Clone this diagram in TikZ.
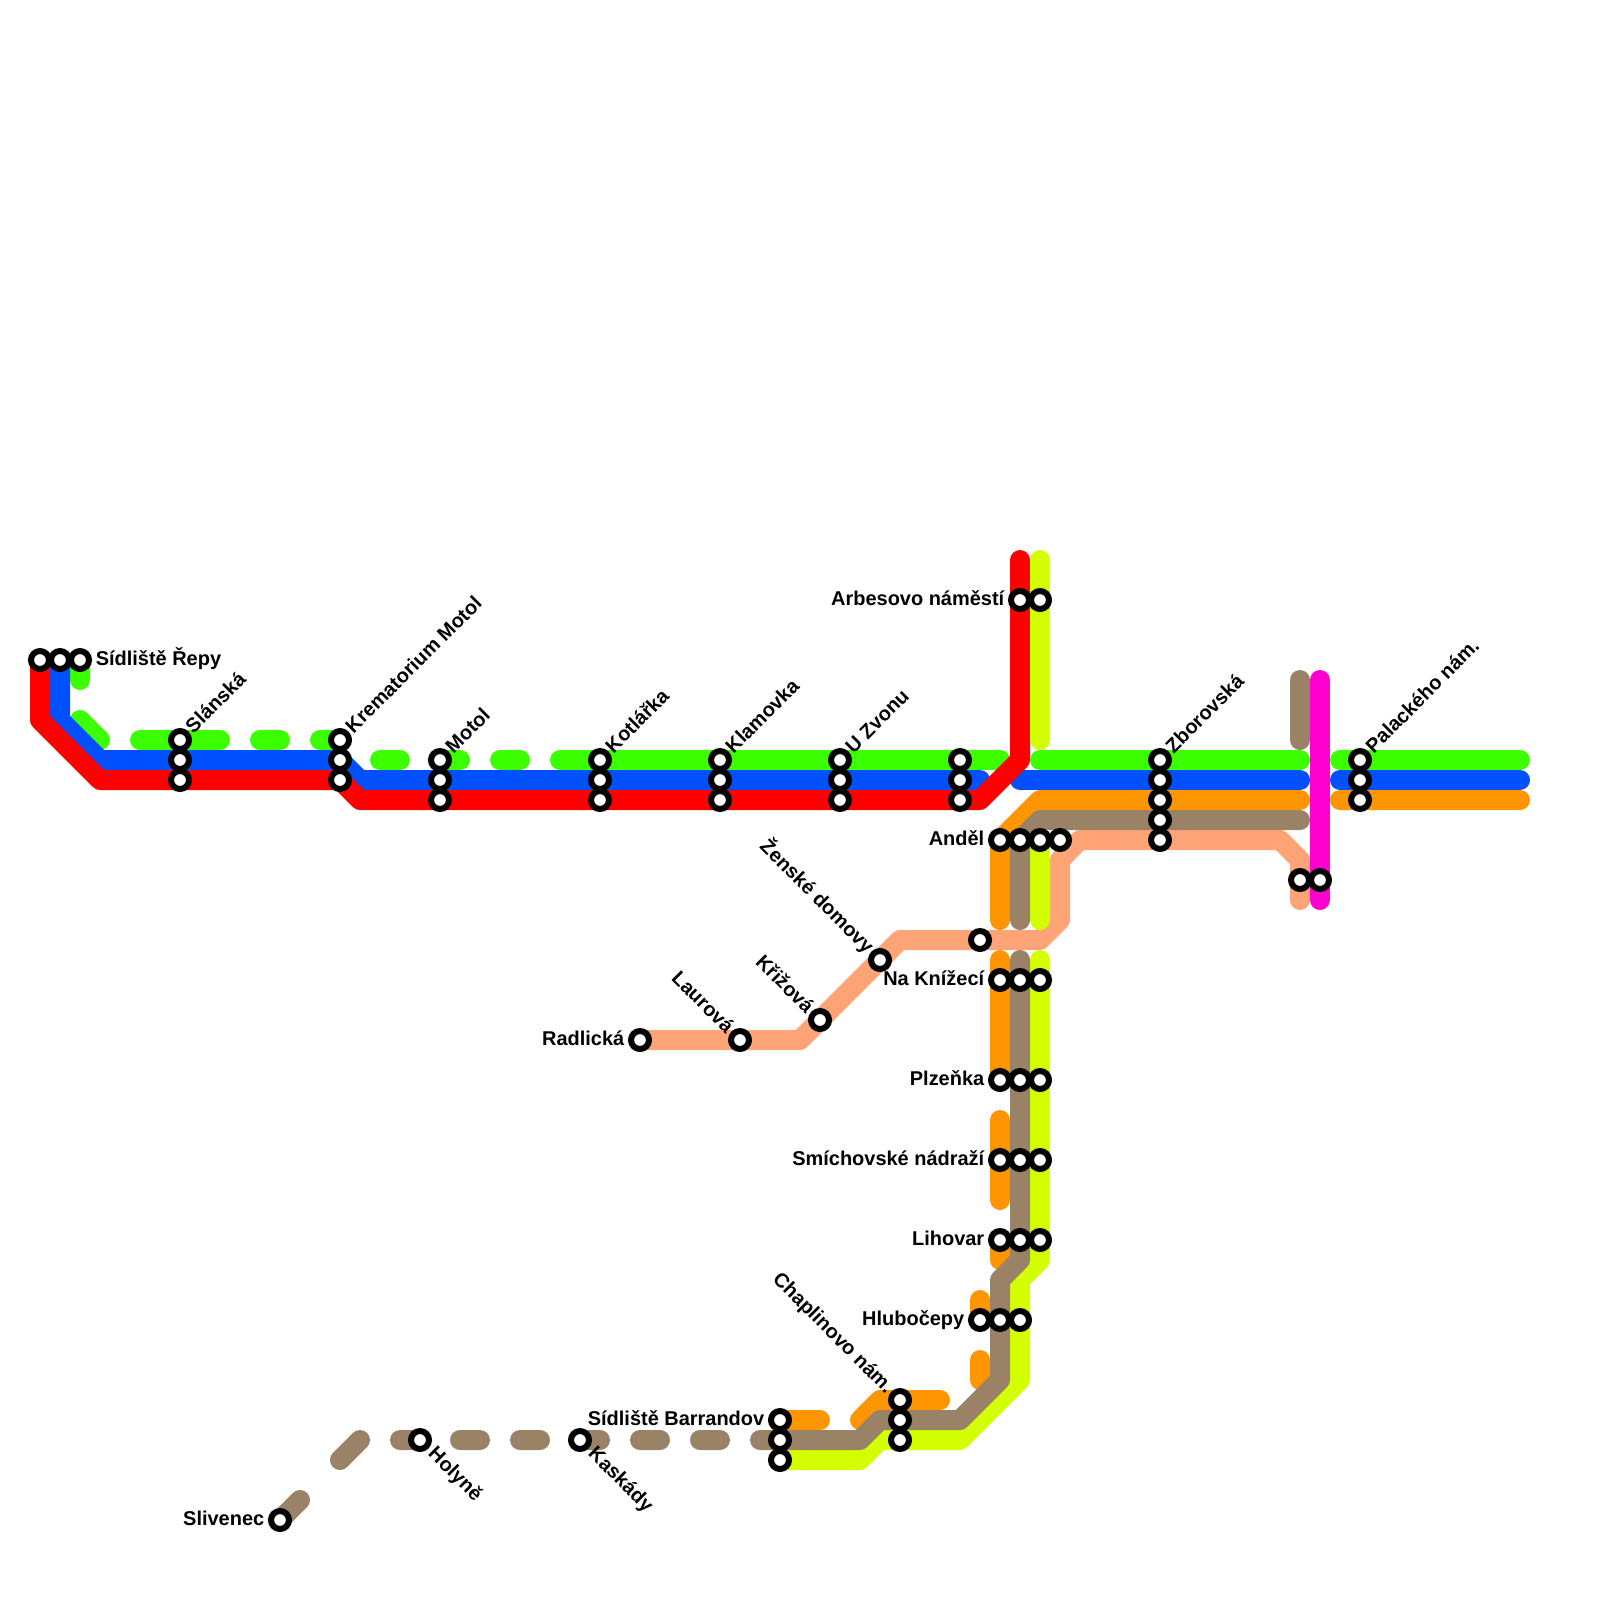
\documentclass[tikz,border=0pt]{standalone}
\usepackage{fontspec}
\setmainfont{Liberation Sans}
\usetikzlibrary{backgrounds}

\begin{document}
\begin{tikzpicture}[x=0.25cm, y=-0.25cm]
	\tikzset{stop/.style = {circle, draw = black, fill = white, line width = 0.075cm, minimum size = 0.225cm, inner sep = 0pt}}
	\tikzset{route/.style = {line width = 0.25cm, line cap = round, line join = round}}
	\tikzset{stoplabel/.style = {font = \fontsize{7.1}{8.5}\selectfont\bfseries, inner sep = 0pt}}
	\tikzset{labelE/.style = {stoplabel, anchor = mid west, xshift = 0.19cm, yshift = 0.02cm}}
	\tikzset{labelW/.style = {stoplabel, anchor = mid east, xshift = -0.19cm, yshift = 0.02cm}}
	\tikzset{labelNE/.style = {stoplabel, anchor = mid west, rotate = 45, xshift = 0.166cm, yshift = 0.023cm}}
	\tikzset{labelNW/.style = {stoplabel, anchor = mid east, rotate = -45, xshift = -0.17cm, yshift = 0.016cm}}
	\tikzset{labelSE/.style = {stoplabel, anchor = mid west, rotate = -45, xshift = 0.19cm, yshift = 0.028cm}}
	\definecolor{routeRed}{HTML}{FF0000}
	\definecolor{routeBlue}{HTML}{0050FF}
	\definecolor{routeGreen}{HTML}{3CFF00}
	\definecolor{routeLime}{HTML}{D4FF00}
	\definecolor{routeOrange}{HTML}{FF9500}
	\definecolor{routeBrown}{HTML}{998266}
	\definecolor{routeSalmon}{HTML}{FFA477}
	\definecolor{routeMagenta}{HTML}{FF00D0}

	\useasboundingbox (0,0) rectangle (80,80);

%% Western stops
\draw (2,33) node[stop, name = repyR]{};
\draw (3,33) node[stop, name = repyB]{};
\draw (4,33) node[stop, name = repyG]{};
\draw (9,37) node[stop, name = slanskaG]{};
\draw (9,38) node[stop, name = slanskaB]{};
\draw (9,39) node[stop, name = slanskaR]{};
\draw (17,37) node[stop, name = krematG]{};
\draw (17,38) node[stop, name = krematB]{};
\draw (17,39) node[stop, name = krematR]{};
\draw (22,38) node[stop, name = motolG]{};
\draw (22,39) node[stop, name = motolB]{};
\draw (22,40) node[stop, name = motolR]{};
\draw (30,38) node[stop, name = kotlarkaG]{};
\draw (30,39) node[stop, name = kotlarkaB]{};
\draw (30,40) node[stop, name = kotlarkaR]{};
\draw (36,38) node[stop, name = klamovkaG]{};
\draw (36,39) node[stop, name = klamovkaB]{};
\draw (36,40) node[stop, name = klamovkaR]{};
\draw (42,38) node[stop, name = zvonuG]{};
\draw (42,39) node[stop, name = zvonuB]{};
\draw (42,40) node[stop, name = zvonuR]{};
\draw (48,38) node[stop, name = bezG]{};
\draw (48,39) node[stop, name = bezB]{};
\draw (48,40) node[stop, name = bezR]{};

%% Central stops
\draw (51,30) node[stop, name = arbesR]{};
\draw (52,30) node[stop, name = arbesL]{};
\draw (50,42) node[stop, name = andelO]{};
\draw (51,42) node[stop, name = andelH]{};
\draw (52,42) node[stop, name = andelL]{};
\draw (53,42) node[stop, name = andelS]{};
\draw (58,38) node[stop, name = zborG]{};
\draw (58,39) node[stop, name = zborB]{};
\draw (58,40) node[stop, name = zborO]{};
\draw (58,41) node[stop, name = zborH]{};
\draw (58,42) node[stop, name = zborS]{};
\draw (65,44) node[stop, name = palackS]{};
\draw (66,44) node[stop, name = palackM]{};
\draw (68,38) node[stop, name = palackG]{};
\draw (68,39) node[stop, name = palackB]{};
\draw (68,40) node[stop, name = palackO]{};

%% Salmon branch stops
\draw (32,52) node[stop, name = radlicka]{};
\draw (37,52) node[stop, name = laurova]{};
\draw (41,51) node[stop, name = krizova]{};
\draw (44,48) node[stop, name = zenske]{};
\draw (49,47) node[stop, name = salmonS]{};

%% Southern stops
\draw (50,49) node[stop, name = knizeciO]{};
\draw (51,49) node[stop, name = knizeciH]{};
\draw (52,49) node[stop, name = knizeciL]{};
\draw (50,54) node[stop, name = plzenkaO]{};
\draw (51,54) node[stop, name = plzenkaH]{};
\draw (52,54) node[stop, name = plzenkaL]{};
\draw (50,58) node[stop, name = smichovO]{};
\draw (51,58) node[stop, name = smichovH]{};
\draw (52,58) node[stop, name = smichovL]{};
\draw (50,62) node[stop, name = lihovarO]{};
\draw (51,62) node[stop, name = lihovarH]{};
\draw (52,62) node[stop, name = lihovarL]{};
\draw (49,66) node[stop, name = hlubO]{};
\draw (50,66) node[stop, name = hlubH]{};
\draw (51,66) node[stop, name = hlubL]{};
\draw (45,70) node[stop, name = chaplinO]{};
\draw (45,71) node[stop, name = chaplinH]{};
\draw (45,72) node[stop, name = chaplinL]{};
\draw (39,71) node[stop, name = barrandovO]{};
\draw (39,72) node[stop, name = barrandovH]{};
\draw (39,73) node[stop, name = barrandovL]{};
\draw (29,72) node[stop, name = kaskady]{};
\draw (21,72) node[stop, name = holyne]{};
\draw (14,76) node[stop, name = slivenec]{};

%% Labels
\draw (repyG) node[labelE, name = repyText]{Sídliště Řepy};
\draw (slanskaG) node[labelNE, name = slanskaText]{Slánská};
\draw (krematG) node[labelNE, name = krematText]{Krematorium Motol};
\draw (motolG) node[labelNE, name = motolText]{Motol};
\draw (kotlarkaG) node[labelNE, name = kotlarkaText]{Kotlářka};
\draw (klamovkaG) node[labelNE, name = klamovkaText]{Klamovka};
\draw (zvonuG) node[labelNE, name = zvonuText]{U Zvonu};
\draw (zborG) node[labelNE, name = zborText]{Zborovská};
\draw (palackG) node[labelNE, name = palackText]{Palackého nám.};
\draw (arbesR) node[labelW, name = arbesText]{Arbesovo náměstí};
\draw (andelO) node[labelW, name = andelText]{Anděl};
\draw (knizeciO) node[labelW, name = knizeciText]{Na Knížecí};
\draw (plzenkaO) node[labelW, name = plzenkaText]{Plzeňka};
\draw (smichovO) node[labelW, name = smichovText]{Smíchovské nádraží};
\draw (lihovarO) node[labelW, name = lihovarText]{Lihovar};
\draw (hlubO) node[labelW, name = hlubText]{Hlubočepy};
\draw (barrandovO) node[labelW, name = barrandovText]{Sídliště Barrandov};
\draw (radlicka) node[labelW, name = radlickaText]{Radlická};
\draw (slivenec) node[labelW, name = slivenecText]{Slivenec};
\draw (laurova) node[labelNW, name = laurovaText]{Laurová};
\draw (krizova) node[labelNW, name = krizovaText]{Křižová};
\draw (zenske) node[labelNW, name = zenskeText]{Ženské domovy};
\draw (chaplinO) node[labelNW, name = chaplinText]{Chaplinovo nám.};
\draw (holyne) node[labelSE, name = holyneText]{Holyně};
\draw (kaskady) node[labelSE, name = kaskadyText]{Kaskády};

%% Routes
\begin{scope}[on background layer]
\draw[route, routeGreen] (repyG.center) -- (4,34) (4,36) -- (5,37) (7,37) -- (11,37) (13,37) -- (14,37) (16,37) -- (krematG.center);
\draw[route, routeGreen] (19,38) -- (20,38) (motolG.center) -- (23,38) (25,38) -- (26,38) (28,38) -- (50,38);
\draw[route, routeGreen] (52,38) -- (65,38) (67,38) -- (76,38);
\draw[route, routeBlue] (repyB.center) -- (3,36) -- (5,38) -- (krematB.center) -- (18,39) -- (49,39);
\draw[route, routeBlue] (51,39) -- (65,39) (67,39) -- (76,39);
\draw[route, routeRed] (repyR.center) -- (2,36) -- (5,39) -- (krematR.center) -- (18,40) -- (49,40) -- (51,38) -- (51,28);

\draw[route, routeSalmon] (radlicka.center) -- (40,52) -- (45,47) -- (52,47) -- (53,46) -- (53,43) -- (54,42) -- (64,42) -- (65,43) -- (65,45);
\draw[route, routeOrange] (65,40) -- (52,40) -- (50,42) -- (50,46) (50,48) -- (plzenkaO.center) (50,56) -- (50,60) (lihovarO.center) -- (50,63);
\draw[route, routeOrange] (49,65) -- (hlubO.center) (49,68) -- (49,69) (47,70) -- (44,70) -- (43,71) (barrandovO.center) -- (41,71) (67,40) -- (76,40);
\draw[route, routeLime] (52,28) -- (52,37) (andelL.center) -- (52,46) (52,48) -- (52,63) -- (51,64) -- (51,69) -- (48,72) -- (44,72) -- (43,73) -- (barrandovL.center);
\draw[route, routeBrown] (65,41) -- (52,41) -- (51,42) -- (51,46) (51,48) -- (51,63) -- (50,64) -- (50,69) -- (48,71) -- (44,71) -- (43,72) -- (38,72);
\draw[route, routeBrown] (slivenec.center) -- (15,75) (17,73) -- (18,72) (20,72) -- (holyne.center) (23,72) -- (24,72) (26,72) -- (27,72) (kaskady.center) -- (30,72) (32,72) -- (33,72) (35,72) -- (36,72);
\draw[route, routeBrown] (65,34) -- (65,37);
\draw[route, routeMagenta] (66,34) -- (66,45);
\end{scope}
\end{tikzpicture}
\end{document}
